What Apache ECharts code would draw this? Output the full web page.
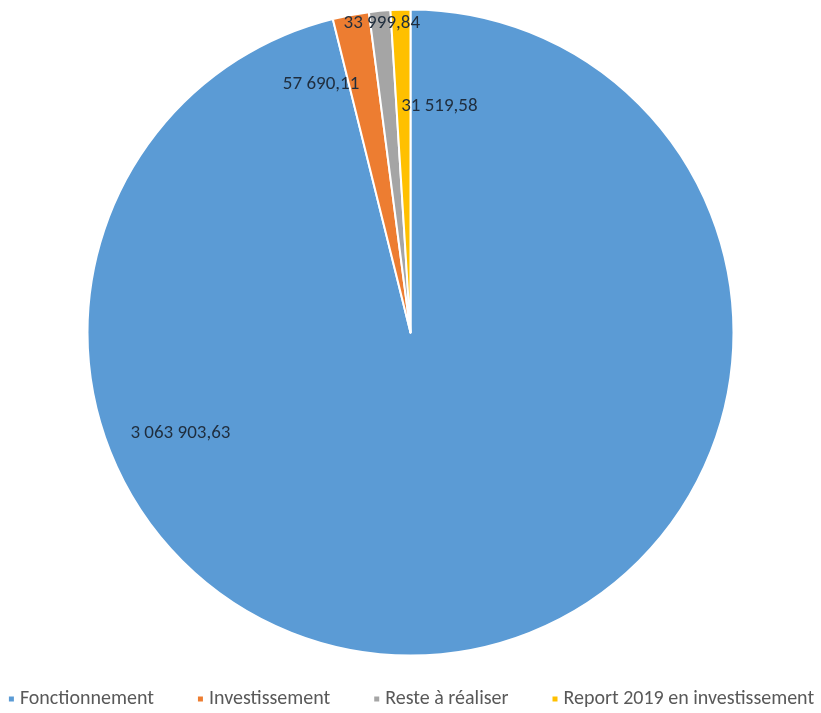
<!DOCTYPE html>
<html><head><meta charset="utf-8">
<script src="https://cdn.jsdelivr.net/npm/echarts@6/dist/echarts.min.js"></script>
<style>html,body{margin:0;padding:0;background:#fff}#c{width:821px;height:713px}</style>
</head><body><div id="c"></div>
<script>
const categories = ['Fonctionnement', 'Investissement', 'Reste à réaliser', 'Report 2019 en investissement'];
const values = [3063903.63, 57690.11, 33999.84, 31519.58];
const colors = ['#5B9BD5', '#ED7D31', '#A5A5A5', '#FFC000'];
const labelOffsets = [[-250, -63], [-59, -87], [-13, -146], [34, -62]];

function fmt(v) {
  const parts = v.toFixed(2).split('.');
  return parts[0].replace(/\B(?=(\d{3})+(?!\d))/g, ' ') + ',' + parts[1];
}

const font = 'Carlito, Lato, "Open Sans", sans-serif';
const chart = echarts.init(document.getElementById('c'));
chart.setOption({
  animation: false,
  color: colors,
  legend: {
    top: 684,
    left: 'center',
    icon: 'rect',
    itemWidth: 7,
    itemHeight: 7,
    itemGap: 42,
    textStyle: { fontFamily: font, fontSize: 20, color: '#595959' },
    data: categories
  },
  series: [{
    type: 'pie',
    center: [410.5, 332.5],
    radius: [0, 323],
    startAngle: 90,
    clockwise: true,
    avoidLabelOverlap: false,
    itemStyle: { borderColor: '#fff', borderWidth: 2 },
    label: {
      show: true,
      position: 'inside',
      fontFamily: font,
      fontSize: 19,
      color: '#1F2D3D',
      formatter: p => fmt(p.value)
    },
    labelLine: { show: false },
    data: categories.map((n, i) => ({
      name: n,
      value: values[i],
      label: { offset: labelOffsets[i] }
    }))
  }]
});
</script></body></html>
